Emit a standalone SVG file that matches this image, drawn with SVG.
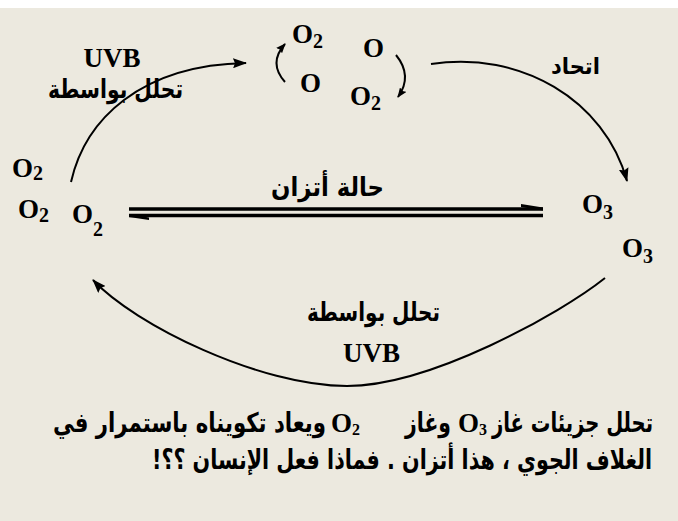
<svg xmlns="http://www.w3.org/2000/svg" width="678" height="521" viewBox="0 0 678 521">
<defs>
<style>
.lat{font-family:"Liberation Serif","Times New Roman",serif;font-weight:bold;font-size:27px;fill:#000}
.sub{font-size:20px}
.ar{font-family:"DejaVu Sans","Noto Sans",sans-serif;font-weight:bold;fill:#000;direction:rtl}
.ln{fill:none;stroke:#000;stroke-width:2}
.eq{fill:none;stroke:#000;stroke-width:3.4}
</style>
<marker id="ah" markerUnits="userSpaceOnUse" markerWidth="14" markerHeight="10" refX="13" refY="5" orient="auto">
<path d="M0,0 L14,5 L0,10 L2,5 Z" fill="#000"/>
</marker>
<marker id="ahs" markerUnits="userSpaceOnUse" markerWidth="10" markerHeight="8" refX="9" refY="4" orient="auto">
<path d="M0,0 L10,4 L0,8 L1.5,4 Z" fill="#000"/>
</marker>
</defs>
<rect x="0" y="0" width="678" height="521" fill="#ECE9DF"/>
<rect x="0" y="0" width="678" height="8" fill="#FFFFFF"/>

<g id="connectors">
<path class="ln" d="M71,182 C85,120 140,65 246,63" marker-end="url(#ah)"/>
<path class="ln" d="M431,64 C520,50 605,100 627,181" marker-end="url(#ah)"/>
<path class="ln" d="M605,278 C560,314 430,386 347,386 C260,386 135,325 93,280" marker-end="url(#ah)"/>
<path class="ln" d="M285,82 Q268,63 285,44" marker-end="url(#ahs)"/>
<path class="ln" d="M396,55 Q413,76 398,97" marker-end="url(#ahs)"/>
<line class="eq" x1="129" y1="209" x2="543" y2="209"/>
<polygon points="521,204 543,207.5 543,210.5 521,207" fill="#000"/>
<line class="eq" x1="129" y1="215.5" x2="543" y2="215.5"/>
<polygon points="129,214 149,217.5 149,220 129,217" fill="#000"/>
</g>

<g id="label-uvb-top">
<text class="lat" x="112" y="67" text-anchor="middle">UVB</text>
<text class="ar" x="115.5" y="98" font-size="26" text-anchor="middle" textLength="135" lengthAdjust="spacingAndGlyphs">تحلل بواسطة</text>
</g>

<g id="node-o2-left">
<text class="lat" x="12" y="177">O<tspan class="sub" dy="3">2</tspan></text>
<text class="lat" x="18" y="218">O<tspan class="sub" dy="4">2</tspan></text>
<text class="lat" x="72" y="223">O<tspan class="sub" dy="13">2</tspan></text>
</g>

<g id="node-cluster-top">
<text class="lat" x="292" y="43">O<tspan class="sub" dy="5">2</tspan></text>
<text class="lat" x="363" y="57">O</text>
<text class="lat" x="300" y="92">O</text>
<text class="lat" x="350" y="105">O<tspan class="sub" dy="5">2</tspan></text>
</g>

<g id="label-combine">
<text class="ar" x="575.5" y="74" font-size="23" text-anchor="middle" textLength="49" lengthAdjust="spacingAndGlyphs">اتحاد</text>
</g>

<g id="label-equilibrium">
<text class="ar" x="327.5" y="196" font-size="26" text-anchor="middle" textLength="113" lengthAdjust="spacingAndGlyphs">حالة أتزان</text>
</g>

<g id="node-o3-right">
<text class="lat" x="582" y="213">O<tspan class="sub" dy="6">3</tspan></text>
<text class="lat" x="622" y="257">O<tspan class="sub" dy="6">3</tspan></text>
</g>

<g id="label-uvb-bottom">
<text class="ar" x="373.5" y="321" font-size="26" text-anchor="middle" textLength="133" lengthAdjust="spacingAndGlyphs">تحلل بواسطة</text>
<text class="lat" x="371.5" y="362" text-anchor="middle">UVB</text>
</g>

<g id="caption">
<text class="ar" x="572.5" y="432" font-size="27" text-anchor="middle" textLength="161" lengthAdjust="spacingAndGlyphs">تحلل جزيئات غاز</text>
<text class="lat" x="458" y="432" font-size="24" font-weight="normal">O<tspan font-size="16" dy="3">3</tspan></text>
<text class="ar" x="428" y="432" font-size="27" text-anchor="middle" textLength="46" lengthAdjust="spacingAndGlyphs">وغاز</text>
<text class="lat" x="331" y="432" font-size="24" font-weight="normal">O<tspan font-size="16" dy="3">2</tspan></text>
<text class="ar" x="189.5" y="432" font-size="27" text-anchor="middle" textLength="273" lengthAdjust="spacingAndGlyphs">ويعاد تكويناه باستمرار في</text>
<text class="ar" x="402" y="469" font-size="27" text-anchor="middle" textLength="500" lengthAdjust="spacingAndGlyphs">الغلاف الجوي ، هذا أتزان . فماذا فعل الإنسان ؟؟!</text>
</g>
</svg>
